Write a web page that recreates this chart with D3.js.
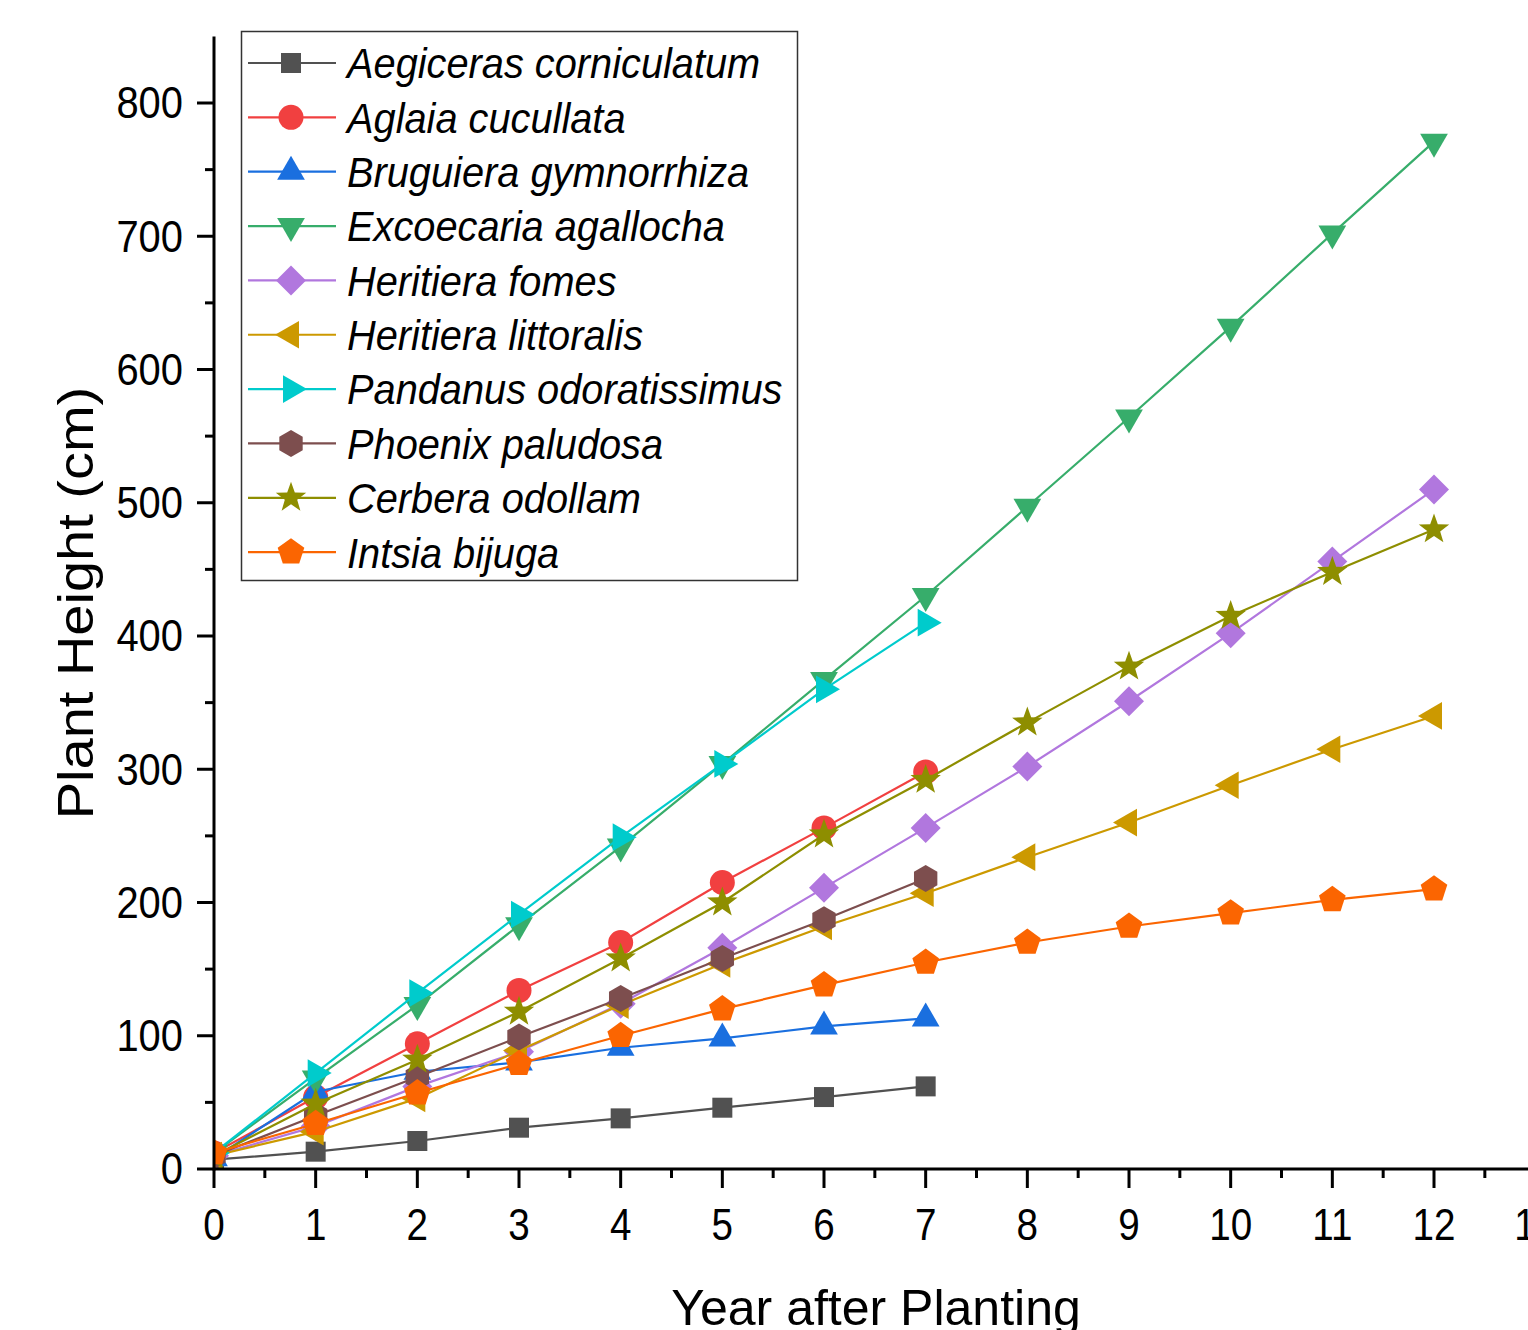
<!DOCTYPE html>
<html><head><meta charset="utf-8">
<script src="https://cdn.jsdelivr.net/npm/d3@7"></script>
<style>body{margin:0;background:#fff}svg{display:block}text{font-family:"Liberation Sans",Arial,sans-serif}</style>
</head><body><svg id="c" width="1528" height="1330"></svg>
<script>
const years = [0,1,2,3,4,5,6,7,8,9,10,11,12];
const species = ["Aegiceras corniculatum","Aglaia cucullata","Bruguiera gymnorrhiza","Excoecaria agallocha","Heritiera fomes","Heritiera littoralis","Pandanus odoratissimus","Phoenix paludosa","Cerbera odollam","Intsia bijuga"];
const aegiceras = [7,13,21,31,38,46,54,62];
const aglaia = [12,54,94,134,170,215,256,298];
const bruguiera = [8,58,73,80,91,98,107,113];
const excoecaria = [12,68,123,183,242,304,367,430,497,564,632,702,771];
const heritieraFomes = [10,32,62,88,124,166,211,256,302,351,402,456,510];
const heritieraLittoralis = [10,28,53,89,123,154,182,207,234,260,288,315,340];
const pandanus = [12,72,132,191,249,304,360,410];
const phoenix = [10,40,69,99,128,158,187,218];
const cerbera = [10,49,82,118,158,200,251,292,335,377,415,448,480];
const intsia = [12,34,57,79,100,120,138,155,170,182,192,202,210];
const seriesValues = [aegiceras,aglaia,bruguiera,excoecaria,heritieraFomes,heritieraLittoralis,pandanus,phoenix,cerbera,intsia];
const colors = ["#515151","#F14040","#1A6FDF","#37AD6B","#B177DE","#CC9900","#00CBCC","#7D4E4E","#8E8E00","#FB6501"];
const shapes = ["square","circle","triUp","triDown","diamond","triLeft","triRight","hexagon","star","pentagon"];
const yTicks = [0,100,200,300,400,500,600,700,800];
const xTicks = [0,1,2,3,4,5,6,7,8,9,10,11,12,13];

const svg = d3.select("#c");
const L = 214, B = 1169;
const x = d3.scaleLinear().domain([0,13]).range([L, L + 13*101.667]);
const y = d3.scaleLinear().domain([0,850]).range([B, B - 850*1.3325]);

function poly(pts){ return "M" + pts.map(p=>p[0].toFixed(2)+","+p[1].toFixed(2)).join("L") + "Z"; }
function reg(n, r, rot){ const a=[]; for(let i=0;i<n;i++){const t=rot+i*2*Math.PI/n; a.push([r*Math.cos(t), r*Math.sin(t)]);} return a; }
function shapePath(s){
  switch(s){
    case "square": return poly([[-10,-10],[10,-10],[10,10],[-10,10]]);
    case "circle": return d3.arc()({innerRadius:0,outerRadius:12.5,startAngle:0,endAngle:2*Math.PI});
    case "triUp": return poly(reg(3,16,-Math.PI/2));
    case "triDown": return poly(reg(3,16,Math.PI/2));
    case "triLeft": return poly(reg(3,16,Math.PI));
    case "triRight": return poly(reg(3,16,0));
    case "diamond": return poly(reg(4,15,-Math.PI/2));
    case "hexagon": return poly(reg(6,13.5,-Math.PI/2));
    case "pentagon": return poly(reg(5,14,-Math.PI/2));
    case "star": { const a=[]; for(let i=0;i<10;i++){const r=i%2?6.5:16; const t=-Math.PI/2+i*Math.PI/5; a.push([r*Math.cos(t),r*Math.sin(t)]);} return poly(a); }
  }
}

svg.append("defs").append("clipPath").attr("id","pc").append("rect")
  .attr("x",L).attr("y",0).attr("width",1528-L).attr("height",B);

const plot = svg.append("g").attr("clip-path","url(#pc)");
const line = d3.line().x((d,i)=>x(years[i])).y(d=>y(d));
seriesValues.forEach((vals,k)=>{
  const g = plot.append("g");
  g.append("path").attr("d",line(vals)).attr("fill","none").attr("stroke",colors[k]).attr("stroke-width",2.2);
  g.selectAll("path.m").data(vals).enter().append("path").attr("class","m")
    .attr("d",shapePath(shapes[k])).attr("fill",colors[k])
    .attr("transform",(d,i)=>`translate(${x(years[i])},${y(d)})`);
});

const ax = svg.append("g").attr("stroke","#000").attr("stroke-width",3).attr("fill","none");
ax.append("line").attr("x1",L).attr("x2",1528).attr("y1",B).attr("y2",B);
ax.append("line").attr("x1",L).attr("x2",L).attr("y1",B+1.5).attr("y2",y(850));
const yMinor = d3.range(50,850,100);
yTicks.forEach(v=>ax.append("line").attr("x1",L-17).attr("x2",L).attr("y1",y(v)).attr("y2",y(v)));
yMinor.forEach(v=>ax.append("line").attr("x1",L-9).attr("x2",L).attr("y1",y(v)).attr("y2",y(v)));
xTicks.forEach(v=>ax.append("line").attr("x1",x(v)).attr("x2",x(v)).attr("y1",B).attr("y2",B+19));
d3.range(0.5,13,1).forEach(v=>ax.append("line").attr("x1",x(v)).attr("x2",x(v)).attr("y1",B).attr("y2",B+9));

svg.selectAll("text.yt").data(yTicks).enter().append("text").attr("class","yt")
  .attr("transform",d=>`translate(${L-31},${y(d)}) scale(0.95,1.05)`).attr("dy","0.35em").attr("text-anchor","end")
  .attr("font-size",42).text(d=>d);
svg.selectAll("text.xt").data(xTicks).enter().append("text").attr("class","xt")
  .attr("transform",d=>`translate(${x(d)},1240) scale(0.92,1.05)`).attr("text-anchor","middle")
  .attr("font-size",42).text(d=>d);

svg.append("text").attr("x",876).attr("y",1325).attr("text-anchor","middle").attr("font-size",50).text("Year after Planting");
svg.append("text").attr("transform","translate(93,603) rotate(-90) scale(1.12,1)").attr("text-anchor","middle").attr("font-size",50).text("Plant Height (cm)");

const lg = svg.append("g");
lg.append("rect").attr("x",241.5).attr("y",31.5).attr("width",556).attr("height",549).attr("fill","#fff").attr("stroke","#333").attr("stroke-width",1.5);
species.forEach((name,k)=>{
  const cy = 63 + k*54.35;
  lg.append("line").attr("x1",248).attr("x2",336).attr("y1",cy).attr("y2",cy).attr("stroke",colors[k]).attr("stroke-width",2.2);
  lg.append("path").attr("d",shapePath(shapes[k])).attr("fill",colors[k]).attr("transform",`translate(291,${cy})`);
  lg.append("text").attr("transform",`translate(347,${cy}) scale(0.97,1.04)`).attr("dy","0.36em").attr("font-size",41).attr("font-style","italic").text(name);
});
</script></body></html>
